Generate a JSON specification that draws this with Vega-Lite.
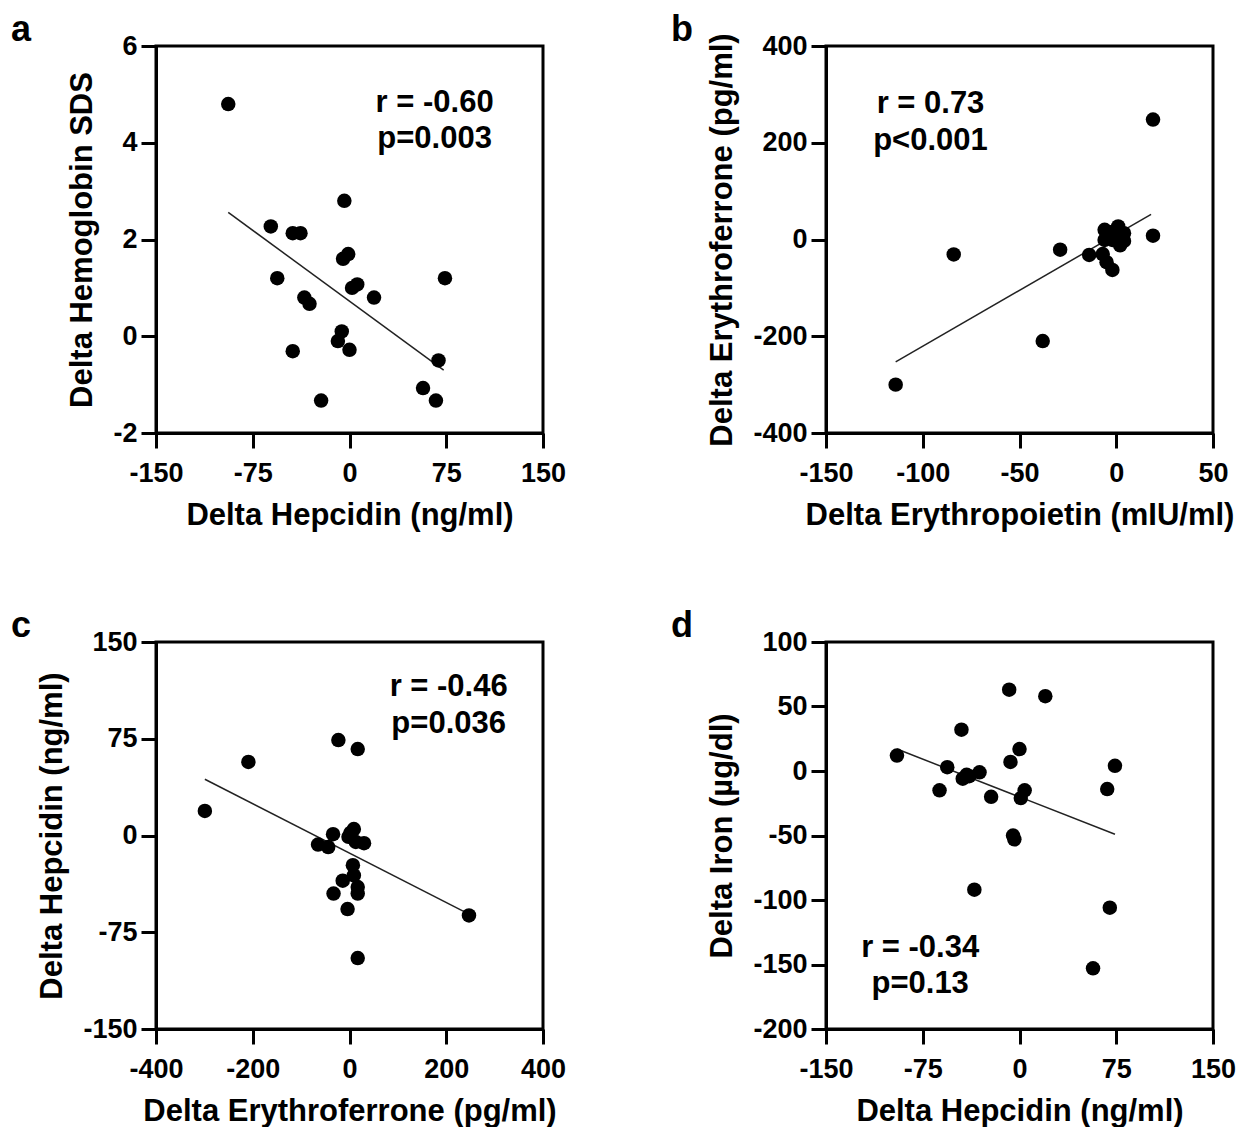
{
  "$schema": "https://vega.github.io/schema/vega-lite/v6.json",
  "background": "white",
  "padding": {"left": 9, "top": 10, "right": 5, "bottom": 5},
  "bounds": "flush",
  "columns": 2,
  "spacing": {"row": 209, "column": 283},
  "datasets": {
    "a_pts": [
      {"x": -94, "y": 4.8}, {"x": -4, "y": 2.8}, {"x": -61, "y": 2.27}, {"x": -44, "y": 2.13},
      {"x": -38, "y": 2.13}, {"x": -56, "y": 1.2}, {"x": -5, "y": 1.6}, {"x": -1, "y": 1.7},
      {"x": 2, "y": 1.0}, {"x": 6, "y": 1.07}, {"x": 19, "y": 0.8}, {"x": 74, "y": 1.2},
      {"x": -35, "y": 0.8}, {"x": -31, "y": 0.67}, {"x": -44, "y": -0.31}, {"x": -6, "y": 0.1},
      {"x": -9, "y": -0.1}, {"x": 0, "y": -0.28}, {"x": -22, "y": -1.33}, {"x": 69, "y": -0.5},
      {"x": 57, "y": -1.07}, {"x": 67, "y": -1.33}
    ],
    "a_fit": [{"x": -94, "y": 2.56}, {"x": 73, "y": -0.7}],
    "a_txt": [{"x": 66, "y": 4.82, "label": "r = -0.60"}, {"x": 66, "y": 4.08, "label": "p=0.003"}],
    "b_pts": [
      {"x": 19, "y": 248}, {"x": 19, "y": 8}, {"x": -84, "y": -31}, {"x": -29, "y": -21},
      {"x": -14, "y": -32}, {"x": -38, "y": -210}, {"x": -114, "y": -300}, {"x": -6, "y": 20},
      {"x": 1, "y": 27}, {"x": 4, "y": 13}, {"x": 4, "y": -3}, {"x": 2, "y": -12},
      {"x": -2, "y": -1}, {"x": -7, "y": -30}, {"x": -5, "y": -47}, {"x": -2, "y": -63},
      {"x": -6, "y": -1}, {"x": 0, "y": 10}, {"x": -3, "y": 15}, {"x": 2, "y": 5}
    ],
    "b_fit": [{"x": -114, "y": -253}, {"x": 18, "y": 52}],
    "b_txt": [{"x": -96, "y": 280, "label": "r = 0.73"}, {"x": -96, "y": 204, "label": "p<0.001"}],
    "c_pts": [
      {"x": -23, "y": 74}, {"x": 17, "y": 67}, {"x": -209, "y": 57}, {"x": -299, "y": 19},
      {"x": 247, "y": -62}, {"x": 17, "y": -95}, {"x": -65, "y": -7}, {"x": -44, "y": -9},
      {"x": -34, "y": 1}, {"x": -2, "y": -1}, {"x": 9, "y": 5}, {"x": 13, "y": -5},
      {"x": 30, "y": -6}, {"x": 7, "y": -23}, {"x": 9, "y": -31}, {"x": -14, "y": -35},
      {"x": 17, "y": -40}, {"x": 17, "y": -45}, {"x": -33, "y": -45}, {"x": -4, "y": -57},
      {"x": 2, "y": 2}
    ],
    "c_fit": [{"x": -299, "y": 43.6}, {"x": 247, "y": -61}],
    "c_txt": [{"x": 205, "y": 115.5, "label": "r = -0.46"}, {"x": 205, "y": 86.8, "label": "p=0.036"}],
    "d_pts": [
      {"x": -95, "y": 12}, {"x": -56, "y": 3}, {"x": -62, "y": -15}, {"x": -45, "y": 32},
      {"x": -44, "y": -6}, {"x": -39, "y": -4}, {"x": -31, "y": -1}, {"x": -22, "y": -20},
      {"x": -8, "y": 63}, {"x": 20, "y": 58}, {"x": 0, "y": 17}, {"x": -7, "y": 7},
      {"x": 4, "y": -15}, {"x": 1, "y": -21}, {"x": -5, "y": -50}, {"x": -4, "y": -53},
      {"x": -35, "y": -92}, {"x": 74, "y": 4}, {"x": 68, "y": -14}, {"x": 70, "y": -106},
      {"x": 57, "y": -153}, {"x": -41, "y": -3}
    ],
    "d_fit": [{"x": -95, "y": 17}, {"x": 74, "y": -49}],
    "d_txt": [{"x": -77, "y": -137, "label": "r = -0.34"}, {"x": -77, "y": -165.5, "label": "p=0.13"}]
  },
  "concat": [
    {
      "width": 387, "height": 387,
      "title": {"text": "a", "anchor": "start", "frame": "group", "dx": -145, "offset": -17, "fontSize": 36, "fontWeight": "bold", "color": "black", "font": "Liberation Sans"},
      "encoding": {
        "x": {"field": "x", "type": "quantitative", "scale": {"domain": [-150, 150], "nice": false, "zero": false}, "axis": {"values": [-150, -75, 0, 75, 150], "title": "Delta Hepcidin (ng/ml)"}},
        "y": {"field": "y", "type": "quantitative", "scale": {"domain": [-2, 6], "nice": false, "zero": false}, "axis": {"values": [-2, 0, 2, 4, 6], "title": "Delta Hemoglobin SDS"}}
      },
      "layer": [
        {"data": {"name": "a_fit"}, "mark": {"type": "line", "color": "#222222", "strokeWidth": 1.5}},
        {"data": {"name": "a_pts"}, "mark": {"type": "circle", "color": "black", "opacity": 1, "size": 210}},
        {"data": {"name": "a_txt"}, "mark": {"type": "text", "fontSize": 31, "fontWeight": "bold", "color": "black", "align": "center", "baseline": "middle", "font": "Liberation Sans"}, "encoding": {"text": {"field": "label"}}}
      ]
    },
    {
      "width": 387, "height": 387,
      "title": {"text": "b", "anchor": "start", "frame": "group", "dx": -155, "offset": -17, "fontSize": 36, "fontWeight": "bold", "color": "black", "font": "Liberation Sans"},
      "encoding": {
        "x": {"field": "x", "type": "quantitative", "scale": {"domain": [-150, 50], "nice": false, "zero": false}, "axis": {"values": [-150, -100, -50, 0, 50], "title": "Delta Erythropoietin (mIU/ml)"}},
        "y": {"field": "y", "type": "quantitative", "scale": {"domain": [-400, 400], "nice": false, "zero": false}, "axis": {"values": [-400, -200, 0, 200, 400], "title": "Delta Erythroferrone (pg/ml)"}}
      },
      "layer": [
        {"data": {"name": "b_fit"}, "mark": {"type": "line", "color": "#222222", "strokeWidth": 1.5}},
        {"data": {"name": "b_pts"}, "mark": {"type": "circle", "color": "black", "opacity": 1, "size": 210}},
        {"data": {"name": "b_txt"}, "mark": {"type": "text", "fontSize": 31, "fontWeight": "bold", "color": "black", "align": "center", "baseline": "middle", "font": "Liberation Sans"}, "encoding": {"text": {"field": "label"}}}
      ]
    },
    {
      "width": 387, "height": 387,
      "title": {"text": "c", "anchor": "start", "frame": "group", "dx": -145, "offset": -17, "fontSize": 36, "fontWeight": "bold", "color": "black", "font": "Liberation Sans"},
      "encoding": {
        "x": {"field": "x", "type": "quantitative", "scale": {"domain": [-400, 400], "nice": false, "zero": false}, "axis": {"values": [-400, -200, 0, 200, 400], "title": "Delta Erythroferrone (pg/ml)"}},
        "y": {"field": "y", "type": "quantitative", "scale": {"domain": [-150, 150], "nice": false, "zero": false}, "axis": {"values": [-150, -75, 0, 75, 150], "title": "Delta Hepcidin (ng/ml)"}}
      },
      "layer": [
        {"data": {"name": "c_fit"}, "mark": {"type": "line", "color": "#222222", "strokeWidth": 1.5}},
        {"data": {"name": "c_pts"}, "mark": {"type": "circle", "color": "black", "opacity": 1, "size": 210}},
        {"data": {"name": "c_txt"}, "mark": {"type": "text", "fontSize": 31, "fontWeight": "bold", "color": "black", "align": "center", "baseline": "middle", "font": "Liberation Sans"}, "encoding": {"text": {"field": "label"}}}
      ]
    },
    {
      "width": 387, "height": 387,
      "title": {"text": "d", "anchor": "start", "frame": "group", "dx": -155, "offset": -17, "fontSize": 36, "fontWeight": "bold", "color": "black", "font": "Liberation Sans"},
      "encoding": {
        "x": {"field": "x", "type": "quantitative", "scale": {"domain": [-150, 150], "nice": false, "zero": false}, "axis": {"values": [-150, -75, 0, 75, 150], "title": "Delta Hepcidin (ng/ml)"}},
        "y": {"field": "y", "type": "quantitative", "scale": {"domain": [-200, 100], "nice": false, "zero": false}, "axis": {"values": [-200, -150, -100, -50, 0, 50, 100], "title": "Delta Iron (µg/dl)"}}
      },
      "layer": [
        {"data": {"name": "d_fit"}, "mark": {"type": "line", "color": "#222222", "strokeWidth": 1.5}},
        {"data": {"name": "d_pts"}, "mark": {"type": "circle", "color": "black", "opacity": 1, "size": 210}},
        {"data": {"name": "d_txt"}, "mark": {"type": "text", "fontSize": 31, "fontWeight": "bold", "color": "black", "align": "center", "baseline": "middle", "font": "Liberation Sans"}, "encoding": {"text": {"field": "label"}}}
      ]
    }
  ],
  "config": {
    "font": "Liberation Sans",
    "view": {"stroke": "black", "strokeWidth": 3},
    "axis": {
      "grid": false,
      "domainColor": "black", "domainWidth": 3,
      "tickColor": "black", "tickWidth": 3, "tickSize": 15,
      "labelFont": "Liberation Sans", "labelFontSize": 27, "labelFontWeight": "bold", "labelColor": "black",
      "labelFlush": false, "labelOverlap": false, "labelBound": false,
      "labelExpr": "replace(datum.label, '−', '-')",
      "titleFont": "Liberation Sans", "titleFontSize": 31, "titleFontWeight": "bold", "titleColor": "black"
    },
    "axisX": {"labelPadding": 12, "titlePadding": 14},
    "axisY": {"labelPadding": 4, "titlePadding": 14}
  }
}
